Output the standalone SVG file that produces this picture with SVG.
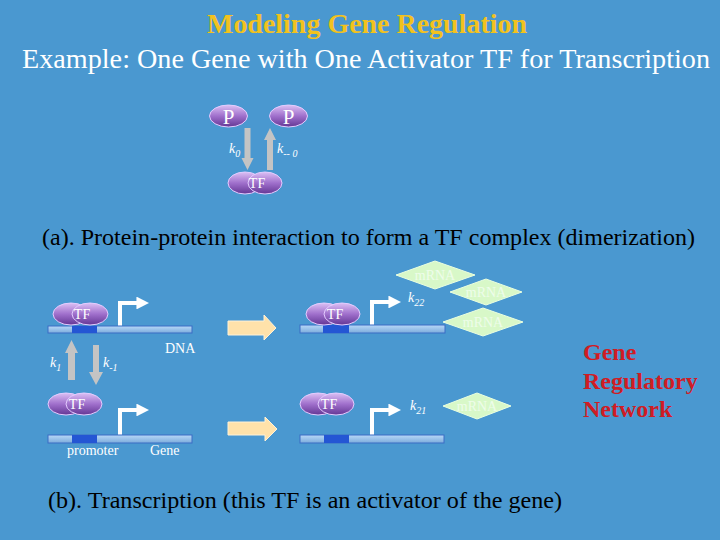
<svg xmlns="http://www.w3.org/2000/svg" width="720" height="540" viewBox="0 0 720 540">
<defs>
<linearGradient id="pg" x1="0" y1="0" x2="0" y2="1">
<stop offset="0" stop-color="#dcc0f4"/>
<stop offset="0.5" stop-color="#a070cc"/>
<stop offset="1" stop-color="#643694"/>
</linearGradient>
<linearGradient id="dg" x1="0" y1="0" x2="0" y2="1">
<stop offset="0" stop-color="#b8d8f8"/>
<stop offset="1" stop-color="#7cacdc"/>
</linearGradient>
<marker id="wh" viewBox="0 0 10 10" refX="2" refY="5" markerWidth="3.2" markerHeight="3.2" orient="auto" markerUnits="strokeWidth">
<path d="M0,0 L10,5 L0,10 z" fill="#ffffff"/>
</marker>
</defs>
<style>
.bg{fill:#4a98d0}
.t1{font-family:"Liberation Serif",serif;font-weight:bold;font-size:28px;fill:#f2c21e}
.t2{font-family:"Liberation Serif",serif;font-size:28px;fill:#ffffff}
.cap{font-family:"Liberation Serif",serif;font-size:23px;fill:#000000}
.ell{fill:url(#pg);stroke:#e4ccff;stroke-width:1}
.et{font-family:"Liberation Serif",serif;font-size:14px;fill:#ffffff;text-anchor:middle}
.pt{font-family:"Liberation Serif",serif;font-size:21px;fill:#ffffff;text-anchor:middle}
.gray{fill:#c4c4c4}
.k{font-family:"Liberation Serif",serif;font-style:italic;font-size:14px;fill:#ffffff}
.sub{font-size:10px}
.dna{fill:url(#dg);stroke:#3a6cc4;stroke-width:1}
.prom{fill:#2456d4}
.bent{fill:none;stroke:#ffffff;stroke-width:4}
.blk{fill:#ffe2aa;stroke:#fff2d8;stroke-width:1}
.mr{fill:#d8f8c8;stroke:#eaffe0;stroke-width:1}
.mt{font-family:"Liberation Serif",serif;font-size:14px;fill:#eefdea;text-anchor:middle}
.lab{font-family:"Liberation Serif",serif;font-size:14px;fill:#ffffff}
.grn{font-family:"Liberation Serif",serif;font-weight:bold;font-size:24px;fill:#d01c24}
</style>
<rect class="bg" x="0" y="0" width="720" height="540"/>
<g id="titles">
<text class="t1" x="367" y="33" text-anchor="middle" textLength="320" lengthAdjust="spacingAndGlyphs">Modeling Gene Regulation</text>
<text class="t2" x="366" y="68" text-anchor="middle" textLength="688" lengthAdjust="spacingAndGlyphs">Example: One Gene with One Activator TF for Transcription</text>
<text class="cap" x="42" y="245" textLength="653" lengthAdjust="spacingAndGlyphs">(a). Protein-protein interaction to form a TF complex (dimerization)</text>
<text class="cap" x="48" y="508" textLength="514" lengthAdjust="spacingAndGlyphs">(b). Transcription (this TF is an activator of the gene)</text>
</g>
<g id="connectors">
<polygon class="gray" points="244.5,128 250.5,128 250.5,158 253.5,158 247.5,170 241.5,158 244.5,158"/>
<polygon class="gray" points="267,170 273,170 273,140 276,140 270,128 264,140 267,140"/>
<polygon class="gray" points="68,380 75,380 75,353 78,353 71.5,340 65,353 68,353"/>
<polygon class="gray" points="93,345 99,345 99,372 103,372 96,385 89,372 93,372"/>
<polygon class="blk" points="228,321 264,321 264,315 276,328 264,340 264,335 228,335"/>
<polygon class="blk" points="228,422 265,422 265,417 277,429 265,441 265,435 228,435"/>
<path class="bent" d="M120,326 V303 H139" marker-end="url(#wh)"/>
<path class="bent" d="M372,325 V302 H391" marker-end="url(#wh)"/>
<path class="bent" d="M120,435 V410 H139" marker-end="url(#wh)"/>
<path class="bent" d="M372,435 V410 H391" marker-end="url(#wh)"/>
</g>
<g id="labels">
<text class="k" x="229" y="153">k<tspan class="sub" dy="4">0</tspan></text>
<text class="k" x="277" y="153">k<tspan class="sub" dy="4">-- 0</tspan></text>
<text class="k" x="50" y="367">k<tspan class="sub" dy="4">1</tspan></text>
<text class="k" x="103" y="367">k<tspan class="sub" dy="4">-1</tspan></text>
<text class="k" x="408" y="302">k<tspan class="sub" dy="4">22</tspan></text>
<text class="k" x="410" y="410">k<tspan class="sub" dy="4">21</tspan></text>
<text class="lab" x="165" y="353">DNA</text>
<text class="lab" x="67" y="455">promoter</text>
<text class="lab" x="150" y="455">Gene</text>
</g>
<g id="P1"><ellipse class="ell" cx="228.5" cy="116" rx="19" ry="11"/><text class="pt" x="228.5" y="124">P</text></g>
<g id="P2"><ellipse class="ell" cx="288.5" cy="116" rx="19" ry="11"/><text class="pt" x="288.5" y="124">P</text></g>
<g id="TF-dimer"><ellipse class="ell" cx="245" cy="183" rx="17" ry="11"/><ellipse class="ell" cx="265" cy="183" rx="17" ry="11"/><text class="et" x="257" y="188">TF</text></g>
<g id="gene-tl">
<rect class="dna" x="48" y="326" width="144" height="7"/><rect class="prom" x="72" y="326" width="25" height="7"/>
<ellipse class="ell" cx="71" cy="314" rx="18" ry="11"/><ellipse class="ell" cx="90" cy="314" rx="18" ry="11"/><text class="et" x="82" y="319">TF</text>
</g>
<g id="gene-tr">
<rect class="dna" x="300" y="325" width="145" height="8"/><rect class="prom" x="323" y="325" width="26" height="8"/>
<ellipse class="ell" cx="324" cy="314" rx="18" ry="11"/><ellipse class="ell" cx="342" cy="314" rx="18" ry="11"/><text class="et" x="335" y="319">TF</text>
</g>
<g id="gene-bl">
<rect class="dna" x="48" y="435" width="144" height="8"/><rect class="prom" x="72" y="435" width="25" height="8"/>
<ellipse class="ell" cx="66" cy="404" rx="18" ry="11"/><ellipse class="ell" cx="84" cy="404" rx="18" ry="11"/><text class="et" x="77" y="409">TF</text>
</g>
<g id="gene-br">
<rect class="dna" x="300" y="435" width="144" height="8"/><rect class="prom" x="324" y="435" width="25" height="8"/>
<ellipse class="ell" cx="318" cy="404" rx="18" ry="11"/><ellipse class="ell" cx="336" cy="404" rx="18" ry="11"/><text class="et" x="329" y="409">TF</text>
</g>
<g id="mRNA1"><polygon class="mr" points="396,275 435,261 475,275 435,289"/><text class="mt" x="435" y="280">mRNA</text></g>
<g id="mRNA2"><polygon class="mr" points="450,292 486,279 522,292 486,305"/><text class="mt" x="486" y="297">mRNA</text></g>
<g id="mRNA3"><polygon class="mr" points="443,322 483,308 523,322 483,336"/><text class="mt" x="483" y="327">mRNA</text></g>
<g id="mRNA4"><polygon class="mr" points="443,406 477,393 511,406 477,419"/><text class="mt" x="477" y="411">mRNA</text></g>
<g id="grn">
<text class="grn" x="583" y="360">Gene</text>
<text class="grn" x="583" y="389">Regulatory</text>
<text class="grn" x="583" y="417">Network</text>
</g>
</svg>
